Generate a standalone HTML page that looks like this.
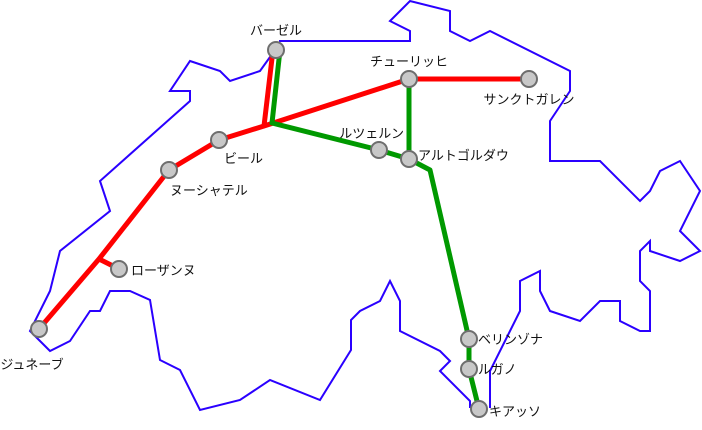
<!DOCTYPE html>
<html><head><meta charset="utf-8"><style>
html,body{margin:0;padding:0;background:#fff;}
svg text{font-family:"Liberation Sans","Noto Sans CJK JP",sans-serif;font-size:13px;fill:#111;}
</style></head><body>
<svg width="702" height="425" viewBox="0 0 702 425" xmlns="http://www.w3.org/2000/svg">
<polyline fill="none" stroke="#2a00ff" stroke-width="2" points="279,41 410,41 410,31 390,21 410,1 450,11 450,31 470,41 490,31 570,71 570,91 550,121 550,161 600,161 640,201 650,191 660,171 680,161 700,191 680,231 700,251 680,261 650,251 650,241 640,251 640,281 650,291 650,331 640,331 620,321 620,301 600,301 580,321 550,311 540,291 540,271 520,281 520,311 490,371 490,408"/>
<polyline fill="none" stroke="#2a00ff" stroke-width="2" points="470,408 470,401 440,371 450,361 440,351 400,331 400,301 390,281 380,301 360,311 351,320 351,350 320,400 270,380 240,400 200,410 180,370 160,360 150,300 130,291 110,291 100,311 90,311 70,341 50,351 30,331 50,291 60,251 110,211 100,181 190,101 190,91 170,91 190,61 220,71 230,81 260,71 270,57 276,50"/>
<g fill="none" stroke-linejoin="round" stroke-width="5">
<polyline stroke="#ff0000" points="273,50 264,126 409,79 529,79"/>
<polyline stroke="#ff0000" points="264,126 219,140 169,170 99,259 39,329"/>
<polyline stroke="#ff0000" points="99,259 119,269"/>
<polyline stroke="#009900" points="280,50 272,123 379,150 409,159 430,170 469,339 469,369 479,409"/>
<polyline stroke="#009900" points="409,79 409,159"/>
</g>
<g fill="#c8c8c8" stroke="#6e6e6e" stroke-width="2">
<circle cx="276" cy="50" r="8"/><circle cx="409" cy="79" r="8"/><circle cx="529" cy="79" r="8"/>
<circle cx="219" cy="140" r="8"/><circle cx="169" cy="170" r="8"/><circle cx="119" cy="269" r="8"/>
<circle cx="39" cy="329" r="8"/><circle cx="379" cy="150" r="8"/><circle cx="409" cy="159" r="8"/>
<circle cx="469" cy="339" r="8"/><circle cx="469" cy="369" r="8"/><circle cx="479" cy="409" r="8"/>
</g>
<text x="276" y="35" text-anchor="middle">バーゼル</text>
<text x="409" y="66" text-anchor="middle">チューリッヒ</text>
<text x="529" y="104" text-anchor="middle">サンクトガレン</text>
<text x="224" y="163">ビール</text>
<text x="170" y="195">ヌーシャテル</text>
<text x="131" y="275">ローザンヌ</text>
<text x="32" y="369" text-anchor="middle">ジュネーブ</text>
<text x="404" y="138" text-anchor="end">ルツェルン</text>
<text x="418" y="160">アルトゴルダウ</text>
<text x="478" y="344">ベリンゾナ</text>
<text x="478" y="374">ルガノ</text>
<text x="489" y="416">キアッソ</text>
</svg>
</body></html>
